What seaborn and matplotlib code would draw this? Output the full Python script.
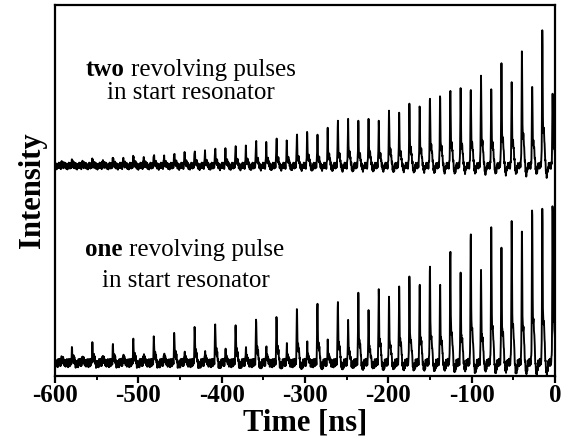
import numpy as np
import pandas as pd
import matplotlib
matplotlib.use("Agg")
import matplotlib.pyplot as plt
from matplotlib.ticker import MultipleLocator
import seaborn as sns

# Arrival times of the revolving pulses (ns, relative to the switch-out at t = 0)
pulse_times = [-591.9, -579.6, -567.3, -555.1, -542.8, -530.5, -518.2, -506.0,
               -493.7, -481.4, -469.2, -456.9, -444.6, -432.4, -420.1, -407.8,
               -395.5, -383.3, -371.0, -358.7, -346.5, -334.2, -321.9, -309.7,
               -297.4, -285.1, -272.8, -260.6, -248.3, -236.0, -223.8, -211.5,
               -199.2, -187.0, -174.7, -162.4, -150.1, -137.9, -125.6, -113.3,
               -101.1, -88.8, -76.5, -64.3, -52.0, -39.7, -27.4, -15.2, -2.9]

# Peak heights (arb. units) for two revolving pulses in the start resonator
two_pulse_heights = [5, 6, 5, 7, 6, 9, 8, 12, 9, 13, 11, 15, 14, 18, 16, 20,
                     18, 23, 21, 27, 25, 30, 28, 35, 38, 32, 42, 48, 52, 47, 52, 47,
                     62, 56, 70, 66, 80, 78, 89, 85, 90, 99, 89, 113, 97, 128, 96, 152,
                     88]

# Peak heights (arb. units) for one revolving pulse in the start resonator
one_pulse_heights = [8, 16, 8, 22, 9, 20, 10, 26, 11, 30, 12, 34, 13, 41, 14, 46,
                     15, 45, 17, 52, 18, 55, 20, 64, 22, 69, 23, 71, 45, 80, 56, 84,
                     72, 87, 95, 91, 109, 91, 126, 100, 146, 103, 151, 128, 158, 148, 178, 174,
                     183]

# Detector ringing / noise floor over two round trips, sampled every 0.5 ns
floor_ripple = [3, -4, 4, -3, 5, -4, 3, -5, 5, -3, 3, -4, 5, -3, 3, -5,
                4, -3, 2, -3, 5, -4, 5, -3, 3, -5, 4, -3, 3, -4, 3, -5,
                5, -3, 4, -3, 5, -4, 3, -4, 3, -5, 4, -3, 5, -3, 3, -4, 3]
ripple_step = 0.5

# Vertical offset between the two traces and the time grid of the scope record
trace_offset = 197.0
time_grid = np.arange(-600.0, 0.0001, 0.25)


def scope_trace(times, heights, phase):
    """Sum of detector pulses plus the periodic ringing of the photodiode."""
    y = np.zeros_like(time_grid)
    for tk, hk in zip(times, heights):
        dt = time_grid - tk
        y += hk * (0.76 * np.exp(-(dt / 0.5) ** 2)
                   + 0.24 * np.exp(-((dt - 1.4) / 1.8) ** 2)
                   - 0.06 * np.exp(-((dt - 5.0) / 1.5) ** 2))
    span = ripple_step * len(floor_ripple)
    ph = np.mod(time_grid - phase, span)
    xp = np.arange(len(floor_ripple) + 1) * ripple_step
    fp = floor_ripple + floor_ripple[:1]
    y += np.interp(ph, xp, fp)
    return y


df = pd.concat([
    pd.DataFrame({"time": time_grid,
                  "intensity": scope_trace(pulse_times, one_pulse_heights, 0.3),
                  "trace": "one"}),
    pd.DataFrame({"time": time_grid,
                  "intensity": scope_trace(pulse_times, two_pulse_heights, 7.1) + trace_offset,
                  "trace": "two"}),
], ignore_index=True)

sns.set_theme(style="white")
plt.rcParams["font.family"] = ["Liberation Serif", "DejaVu Serif"]
plt.rcParams["axes.unicode_minus"] = False
plt.rcParams["text.color"] = "black"
plt.rcParams["axes.labelcolor"] = "black"
plt.rcParams["xtick.color"] = "black"
plt.rcParams["ytick.color"] = "black"

W, H = 569, 443
fig = plt.figure(figsize=(W / 100, H / 100), dpi=100)
ax = fig.add_axes([55 / W, 1 - 376 / H, 500 / W, 371 / H])

sns.lineplot(data=df, x="time", y="intensity", units="trace", estimator=None,
             color="black", linewidth=1.35, ax=ax, sort=False)

ax.set_xlim(-600, 0)
ax.set_ylim(-13, 358)
ax.xaxis.set_major_locator(MultipleLocator(100))
ax.xaxis.set_minor_locator(MultipleLocator(50))
ax.set_yticks([])
ax.tick_params(axis="x", which="major", direction="out", length=5, width=1.6,
               color="black", labelcolor="black", labelsize=18, pad=1, bottom=True)
ax.tick_params(axis="x", which="minor", direction="out", length=3, width=1.4,
               color="black", bottom=True)
for lab in ax.get_xticklabels():
    lab.set_fontweight("bold")
for sp in ax.spines.values():
    sp.set_color("black")
    sp.set_linewidth(1.6)

ax.set_xlabel("Time [ns]", fontsize=22, fontweight="bold", labelpad=1, color="black")
ax.set_ylabel("Intensity", fontsize=22, fontweight="bold", labelpad=6, color="black")

# Annotations: bold count word followed by regular text, each line centred
fig.canvas.draw()
renderer = fig.canvas.get_renderer()
fs = 18
space_px = 0.25 * fs * 100 / 72


def fig_xy(px, py):
    return px / W, 1 - py / H


def mixed_line(cx, cy, bold_word, rest):
    a = fig.text(0, 0, bold_word, fontsize=fs, fontweight="bold", va="center",
                 ha="left", color="black")
    b = fig.text(0, 0, rest, fontsize=fs, va="center", ha="left", color="black")
    wa = a.get_window_extent(renderer).width
    wb = b.get_window_extent(renderer).width
    x0 = cx - (wa + space_px + wb) / 2
    a.set_position(fig_xy(x0, cy))
    b.set_position(fig_xy(x0 + wa + space_px, cy))


def plain_line(cx, cy, s):
    fig.text(*fig_xy(cx, cy), s, fontsize=fs, va="center", ha="center", color="black")


mixed_line(191, 70, "two", "revolving pulses")
plain_line(191, 93, "in start resonator")
mixed_line(185, 250, "one", "revolving pulse")
plain_line(186, 281, "in start resonator")

fig.savefig("out.png", dpi=100)
